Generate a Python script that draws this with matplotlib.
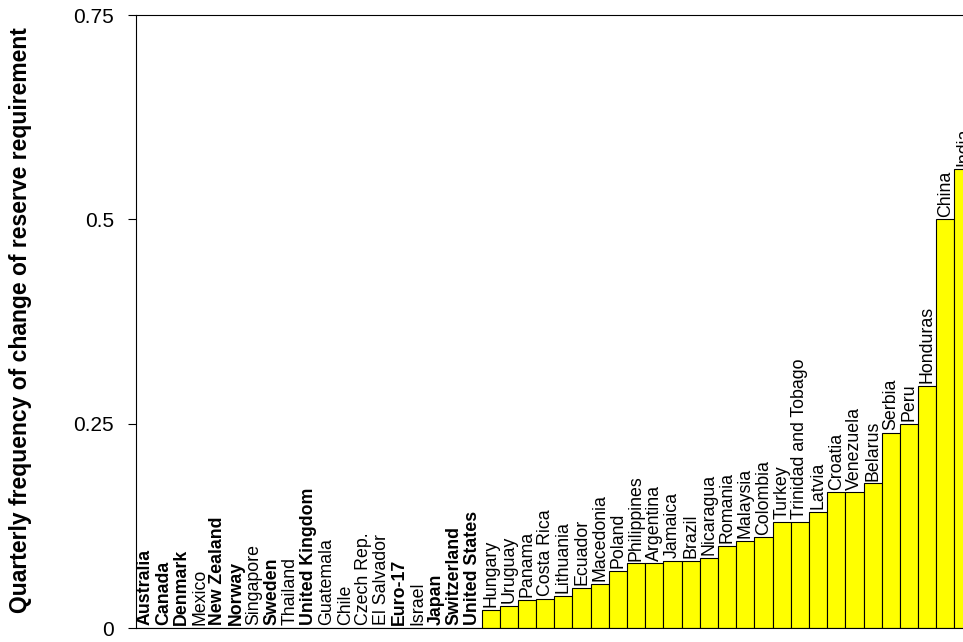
import numpy as np
import matplotlib
matplotlib.use("Agg")
import matplotlib.pyplot as plt
from matplotlib.ticker import FormatStrFormatter

plt.rcParams['font.family'] = ['Liberation Sans', 'DejaVu Sans']

# Данные: страны и частота изменения нормы резервирования
countries = ['Australia', 'Canada', 'Denmark', 'Mexico', 'New Zealand', 'Norway',
             'Singapore', 'Sweden', 'Thailand', 'United Kingdom', 'Guatemala',
             'Chile', 'Czech Rep.', 'El Salvador', 'Euro-17', 'Israel', 'Japan',
             'Switzerland', 'United States', 'Hungary', 'Uruguay', 'Panama',
             'Costa Rica', 'Lithuania', 'Ecuador', 'Macedonia', 'Poland',
             'Philippines', 'Argentina', 'Jamaica', 'Brazil', 'Nicaragua',
             'Romania', 'Malaysia', 'Colombia', 'Turkey', 'Trinidad and Tobago',
             'Latvia', 'Croatia', 'Venezuela', 'Belarus', 'Serbia', 'Peru',
             'Honduras', 'China', 'India']
values = [0] * 19 + [0.022, 0.027, 0.034, 0.036, 0.039, 0.049, 0.054, 0.070,
                     0.079, 0.079, 0.082, 0.082, 0.086, 0.100, 0.107, 0.111,
                     0.130, 0.130, 0.142, 0.166, 0.166, 0.177, 0.239, 0.250,
                     0.296, 0.500, 0.562]
# Развитые экономики подписаны жирным
bold_countries = ['Australia', 'Canada', 'Denmark', 'New Zealand', 'Norway',
                  'Sweden', 'United Kingdom', 'Euro-17', 'Japan', 'Switzerland',
                  'United States']
yticks = [0, 0.25, 0.5, 0.75]

fig = plt.figure(figsize=(9.63, 6.42), dpi=100)
ax = fig.add_axes([0.1412, 0.0218, 0.8688, 0.9548])

x = np.arange(len(countries))
ax.bar(x, values, width=1.0, color='#FFFF00', edgecolor='black', linewidth=0.8)

for xi, val, name in zip(x, values, countries):
    weight = 'bold' if name in bold_countries else 'normal'
    ax.annotate(name, (xi, val), xytext=(0, 2), textcoords='offset points',
                rotation=90, ha='center', va='bottom', fontsize=12.8,
                fontweight=weight, annotation_clip=False)

ax.set_xlim(-0.5, len(countries) - 0.5)
ax.set_ylim(0, 0.75)
ax.set_xticks([])
ax.set_yticks(yticks)
ax.yaxis.set_major_formatter(FormatStrFormatter('%g'))
ax.tick_params(axis='y', direction='out', length=6, width=0.8, pad=10, labelsize=15)
ax.spines['right'].set_visible(False)
for s in ['left', 'top', 'bottom']:
    ax.spines[s].set_linewidth(0.8)

ax.set_ylabel('Quarterly frequency of change of reserve requirement',
              fontsize=16.5, fontweight='bold')
ax.yaxis.set_label_coords(-0.124, 0.503)

fig.savefig('out.png', dpi=100)
